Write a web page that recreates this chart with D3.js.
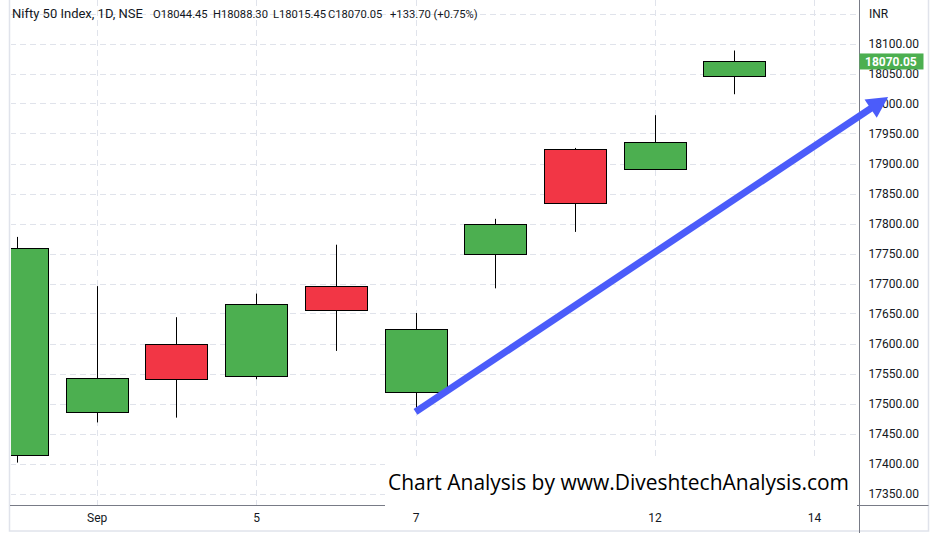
<!DOCTYPE html>
<html>
<head>
<meta charset="utf-8">
<script src="https://cdn.jsdelivr.net/npm/d3@7"></script>
<style>
  body { margin: 0; background: #fff; }
  svg { display: block; font-family: Roboto, "Liberation Sans", sans-serif; }
</style>
</head>
<body>
<svg id="chart" width="938" height="533"></svg>
<script>
// daily candles, Nifty 50
const dates  = ["Aug 30", "Sep 1", "Sep 2", "Sep 5", "Sep 6", "Sep 7", "Sep 8", "Sep 9", "Sep 12", "Sep 13"];
const opens  = [17414.95, 17485.70, 17598.40, 17546.45, 17695.70, 17519.40, 17748.15, 17923.35, 17890.85, 18044.45];
const highs  = [17777.65, 17695.60, 17643.85, 17683.15, 17764.65, 17650.75, 17807.80, 17925.95, 17980.55, 18088.30];
const lows   = [17401.50, 17468.45, 17476.45, 17540.35, 17587.65, 17487.25, 17691.95, 17786.00, 17889.15, 18015.45];
const closes = [17759.30, 17542.80, 17539.45, 17665.80, 17655.60, 17624.40, 17798.75, 17833.35, 17936.35, 18070.05];

// axis ticks
const priceTicks  = [17350, 17400, 17450, 17500, 17550, 17600, 17650, 17700, 17750, 17800, 17850, 17900, 17950, 18000, 18050, 18100];
const gridPrices  = [17350, 17400, 17450, 17500, 17550, 17600, 17650, 17700, 17750, 17800, 17850, 17900, 17950, 18000, 18050, 18100, 18150];
const dayTicks    = [1, 3, 5, 8, 10];
const dayLabels   = ["Sep", "5", "7", "12", "14"];

// trend arrow (bar index, price)
const arrowFrom = [5.0, 17486];
const arrowTo   = [10.93, 18011];

const headerParts = ["Nifty 50 Index, 1D, NSE", "O18044.45", "H18088.30", "L18015.45", "C18070.05", "+133.70 (+0.75%)"];
const lastPrice = "18070.05";
const watermark = "Chart Analysis by www.DiveshtechAnalysis.com";

let chart = d3.select("#chart");
let paneLeft = 10, paneRight = 859.5, paneBottom = 505.5, frameRight = 928.5;

let x = d3.scaleLinear()
    .domain([0, 10])
    .range([17, 814]);

let y = d3.scaleLinear()
    .domain([17350, 18100])
    .range([493.5, 43.5]);

let up = "#4caf50", down = "#f23645", gridColor = "#e0e3eb", axisColor = "#787b86", textColor = "#131722";

chart.append("defs").append("clipPath").attr("id", "pane")
    .append("rect").attr("x", paneLeft + 1).attr("y", 0)
    .attr("width", paneRight - paneLeft - 1).attr("height", paneBottom);

// frame
chart.append("rect")
    .attr("x", paneLeft - 0.5).attr("y", -2)
    .attr("width", frameRight - paneLeft + 0.5).attr("height", 533)
    .attr("fill", "none").attr("stroke", gridColor).attr("stroke-width", 1.5);

// grid
let grid = chart.append("g").attr("clip-path", "url(#pane)");
grid.selectAll("line.h")
    .data(gridPrices)
    .enter().append("line")
    .attr("class", "h")
    .attr("x1", paneLeft).attr("x2", paneRight)
    .attr("y1", d => Math.round(y(d)) + 0.5).attr("y2", d => Math.round(y(d)) + 0.5)
    .attr("stroke", gridColor).attr("stroke-dasharray", "6,4");
grid.selectAll("line.v")
    .data(dayTicks)
    .enter().append("line")
    .attr("class", "v")
    .attr("x1", d => Math.round(x(d)) + 0.5).attr("x2", d => Math.round(x(d)) + 0.5)
    .attr("y1", 0).attr("y2", paneBottom)
    .attr("stroke", gridColor).attr("stroke-dasharray", "6,4");

// header, one piece per value
let headerX = [12, 153, 213, 273, 328, 390];
chart.selectAll("text.header")
    .data(headerParts)
    .enter().append("text")
    .attr("class", "header")
    .attr("x", (d, i) => headerX[i])
    .attr("y", 18)
    .attr("font-size", (d, i) => i == 0 ? "13px" : "11.2px")
    .attr("fill", textColor)
    .text(d => d);

// candles
let candles = chart.append("g").attr("clip-path", "url(#pane)");
let idx = d3.range(dates.length);
let half = 31;

candles.selectAll("line.wick")
    .data(idx)
    .enter().append("line")
    .attr("class", "wick")
    .attr("x1", i => Math.round(x(i)) + 0.5).attr("x2", i => Math.round(x(i)) + 0.5)
    .attr("y1", i => y(highs[i])).attr("y2", i => y(lows[i]))
    .attr("stroke", "#000").attr("stroke-width", 1);

candles.selectAll("rect.body")
    .data(idx)
    .enter().append("rect")
    .attr("class", "body")
    .attr("x", i => Math.round(x(i)) - half + 0.5)
    .attr("width", half * 2)
    .attr("y", i => Math.round(y(Math.max(opens[i], closes[i]))) + 0.5)
    .attr("height", i => Math.max(1, Math.round(Math.abs(y(opens[i]) - y(closes[i])))))
    .attr("fill", i => closes[i] >= opens[i] ? up : down)
    .attr("stroke", "#000").attr("stroke-width", 1);

// axes lines
chart.append("line")
    .attr("x1", paneRight).attr("x2", paneRight)
    .attr("y1", 0).attr("y2", 533)
    .attr("stroke", axisColor);
chart.append("line")
    .attr("x1", paneLeft).attr("x2", frameRight)
    .attr("y1", paneBottom).attr("y2", paneBottom)
    .attr("stroke", axisColor);

// right price axis
let yAxis = d3.axisRight(y)
    .tickValues(priceTicks)
    .tickSize(0)
    .tickPadding(9)
    .tickFormat(d3.format(".2f"));
let yAxisGroup = chart.append("g")
    .attr("transform", "translate(" + paneRight + ",0)")
    .call(yAxis);
yAxisGroup.select(".domain").remove();
yAxisGroup.selectAll("text")
    .attr("font-family", "Roboto, sans-serif")
    .attr("font-size", "12px")
    .attr("fill", textColor);

chart.append("text")
    .attr("x", 869).attr("y", 18)
    .attr("font-size", "12px")
    .attr("fill", textColor)
    .text("INR");

// bottom date axis
let xAxis = d3.axisBottom(x)
    .tickValues(dayTicks)
    .tickSize(0)
    .tickPadding(8)
    .tickFormat((d, i) => dayLabels[i]);
let xAxisGroup = chart.append("g")
    .attr("transform", "translate(0," + paneBottom + ")")
    .call(xAxis);
xAxisGroup.select(".domain").remove();
xAxisGroup.selectAll("text")
    .attr("font-family", "Roboto, sans-serif")
    .attr("font-size", "12px")
    .attr("fill", textColor);

// trend arrow
let ax1 = x(arrowFrom[0]), ay1 = y(arrowFrom[1]);
let ax2 = x(arrowTo[0]),   ay2 = y(arrowTo[1]);
let len = Math.hypot(ax2 - ax1, ay2 - ay1);
let ux = (ax2 - ax1) / len, uy = (ay2 - ay1) / len;
let bx = ax2 - 21 * ux, by = ay2 - 21 * uy;
let px = -uy, py = ux;
let arrowColor = "#4b5cfa";

chart.append("line")
    .attr("x1", ax1).attr("y1", ay1)
    .attr("x2", bx + 3 * ux).attr("y2", by + 3 * uy)
    .attr("stroke", arrowColor).attr("stroke-width", 7);
chart.append("polygon")
    .attr("points", [
        [ax2, ay2],
        [bx + 11 * px, by + 11 * py],
        [bx - 11 * px, by - 11 * py]
    ].map(p => p.join(",")).join(" "))
    .attr("fill", arrowColor);

// last price tag
chart.append("rect")
    .attr("x", paneRight).attr("y", y(18070.05) - 8)
    .attr("width", 64).attr("height", 16)
    .attr("fill", up);
chart.append("text")
    .attr("x", 865).attr("y", y(18070.05))
    .attr("dy", "0.35em")
    .attr("font-size", "12px")
    .attr("font-weight", "bold")
    .attr("fill", "#fff")
    .text(lastPrice);

// watermark
chart.append("rect")
    .attr("x", 385).attr("y", 459)
    .attr("width", 472).attr("height", 48)
    .attr("fill", "#fff");
chart.append("text")
    .attr("x", 388).attr("y", 490)
    .attr("font-family", "'Open Sans', sans-serif")
    .attr("font-size", "21px")
    .attr("fill", "#000")
    .attr("textLength", 461)
    .attr("lengthAdjust", "spacingAndGlyphs")
    .text(watermark);
</script>
</body>
</html>
